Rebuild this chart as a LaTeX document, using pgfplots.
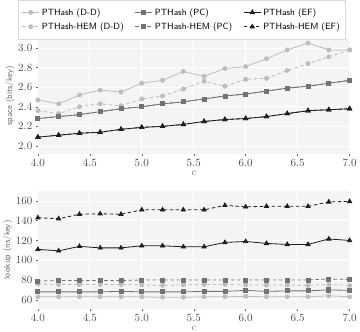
\documentclass[border=0pt]{standalone}
\usepackage{pgfplots}
\pgfplotsset{compat=1.18}

\definecolor{cDD}{HTML}{BDBDBD}
\definecolor{cPC}{HTML}{737373}
\definecolor{cEF}{HTML}{1E1E1E}
\definecolor{panel}{HTML}{F4F4F4}
\definecolor{txt}{HTML}{666666}

\pgfplotsset{
  ggstyle/.style={
    scale only axis,
    width=310pt,
    xmin=4, xmax=7,
    xtick={4,4.5,...,7},
    axis background/.style={fill=panel},
    axis line style={draw=none},
    grid=major,
    grid style={white, line width=0.8pt},
    tick align=outside,
    major tick length=2pt,
    tick style={txt, line width=0.4pt},
    xtick pos=bottom, ytick pos=left,
    tick label style={font=\fontsize{10.5}{12}\selectfont, text=black!70},
    xticklabel style={/pgf/number format/.cd, fixed, fixed zerofill, precision=1},
    label style={font=\sffamily\fontsize{8.5}{10}\selectfont, text=txt},
    xlabel={$c$},
    xlabel style={inner sep=1pt, font=\fontsize{10}{11}\selectfont},
    ylabel style={yshift=-3pt},
    every axis plot/.append style={line width=0.8pt},
  },
  dd/.style={cDD, mark=*, mark size=2pt, mark options={solid}},
  pc/.style={cPC, mark=square*, mark size=2pt, mark options={solid}},
  ef/.style={cEF, mark=triangle*, mark size=2.4pt, mark options={solid}},
  hem/.style={dashed, dash pattern=on 3.5pt off 2.5pt},
}

\begin{document}
\begin{tikzpicture}
\begin{axis}[
  ggstyle,
  name=top,
  height=115pt,
  ymin=1.92, ymax=3.10,
  ytick={2.0,2.2,...,3.0},
  yticklabel style={/pgf/number format/.cd, fixed, fixed zerofill, precision=1},
  ylabel={space (bits/key)},
  legend columns=3,
  legend style={at={(-0.065,1.33)}, anchor=north west, draw=black!15, fill=white,
    font=\sffamily\fontsize{9}{11}\selectfont, inner xsep=4pt, inner ysep=6pt,
    row sep=2pt,
    /tikz/every even column/.append style={column sep=9pt}},
  legend cell align=left,
]
\addplot[dd] coordinates {(4.0,2.47)(4.2,2.43)(4.4,2.52)(4.6,2.57)(4.8,2.55)(5.0,2.64)(5.2,2.67)(5.4,2.76)(5.6,2.71)(5.8,2.79)(6.0,2.81)(6.2,2.89)(6.4,2.98)(6.6,3.05)(6.8,2.98)(7.0,2.98)};
\addlegendentry{PTHash (D-D)}
\addplot[pc] coordinates {(4.0,2.28)(4.2,2.30)(4.4,2.32)(4.6,2.35)(4.8,2.38)(5.0,2.40)(5.2,2.43)(5.4,2.45)(5.6,2.48)(5.8,2.51)(6.0,2.53)(6.2,2.56)(6.4,2.59)(6.6,2.61)(6.8,2.64)(7.0,2.67)};
\addlegendentry{PTHash (PC)}
\addplot[ef] coordinates {(4.0,2.09)(4.2,2.11)(4.4,2.13)(4.6,2.14)(4.8,2.17)(5.0,2.19)(5.2,2.20)(5.4,2.22)(5.6,2.25)(5.8,2.27)(6.0,2.28)(6.2,2.30)(6.4,2.33)(6.6,2.36)(6.8,2.37)(7.0,2.38)};
\addlegendentry{PTHash (EF)}
\addplot[dd, hem] coordinates {(4.0,2.36)(4.2,2.33)(4.4,2.40)(4.6,2.43)(4.8,2.41)(5.0,2.48)(5.2,2.51)(5.4,2.58)(5.6,2.66)(5.8,2.61)(6.0,2.68)(6.2,2.69)(6.4,2.77)(6.6,2.84)(6.8,2.91)(7.0,2.98)};
\addlegendentry{PTHash-HEM (D-D)}
\addplot[pc, hem] coordinates {(4.0,2.28)(4.2,2.30)(4.4,2.32)(4.6,2.35)(4.8,2.38)(5.0,2.40)(5.2,2.43)(5.4,2.45)(5.6,2.48)(5.8,2.51)(6.0,2.53)(6.2,2.56)(6.4,2.59)(6.6,2.61)(6.8,2.64)(7.0,2.67)};
\addlegendentry{PTHash-HEM (PC)}
\addplot[ef, hem] coordinates {(4.0,2.09)(4.2,2.11)(4.4,2.13)(4.6,2.14)(4.8,2.17)(5.0,2.19)(5.2,2.20)(5.4,2.22)(5.6,2.25)(5.8,2.27)(6.0,2.28)(6.2,2.30)(6.4,2.33)(6.6,2.36)(6.8,2.37)(7.0,2.38)};
\addlegendentry{PTHash-HEM (EF)}
\end{axis}

\begin{axis}[
  ggstyle,
  at={(top.south west)}, anchor=north west, yshift=-37pt,
  height=117pt,
  ymin=51, ymax=170,
  ytick={60,80,...,160},
  ylabel={lookup (ns/key)},
]
\addplot[dd] coordinates {(4.0,63)(4.2,63)(4.4,63)(4.6,63)(4.8,63)(5.0,63)(5.2,62.5)(5.4,62.5)(5.6,63)(5.8,63)(6.0,63.5)(6.2,63)(6.4,63)(6.6,63)(6.8,64)(7.0,63)};
\addplot[pc] coordinates {(4.0,68)(4.2,68)(4.4,68)(4.6,68)(4.8,68.5)(5.0,68)(5.2,68)(5.4,68)(5.6,68.5)(5.8,68.5)(6.0,69.5)(6.2,68.5)(6.4,69)(6.6,69)(6.8,70)(7.0,69.5)};
\addplot[ef] coordinates {(4.0,111)(4.2,109.5)(4.4,114)(4.6,112.5)(4.8,112.5)(5.0,114.6)(5.2,114.6)(5.4,113.6)(5.6,113.6)(5.8,118)(6.0,119)(6.2,117)(6.4,116)(6.6,116)(6.8,121.5)(7.0,120)};
\addplot[dd, hem] coordinates {(4.0,76)(4.2,75.5)(4.4,75.5)(4.6,75.5)(4.8,75.5)(5.0,75)(5.2,74.5)(5.4,75)(5.6,75.5)(5.8,75.5)(6.0,75)(6.2,75)(6.4,75)(6.6,74.5)(6.8,75.5)(7.0,74.5)};
\addplot[pc, hem] coordinates {(4.0,79)(4.2,79.5)(4.4,79.5)(4.6,79.5)(4.8,79.5)(5.0,80)(5.2,80)(5.4,80)(5.6,80)(5.8,80)(6.0,80)(6.2,80)(6.4,80)(6.6,80)(6.8,81)(7.0,80.5)};
\addplot[ef, hem] coordinates {(4.0,143)(4.2,142)(4.4,146.5)(4.6,147)(4.8,146.5)(5.0,151)(5.2,151)(5.4,151)(5.6,151)(5.8,155.5)(6.0,154)(6.2,154.5)(6.4,154.5)(6.6,154.5)(6.8,159)(7.0,159.5)};
\end{axis}
\end{tikzpicture}
\end{document}
